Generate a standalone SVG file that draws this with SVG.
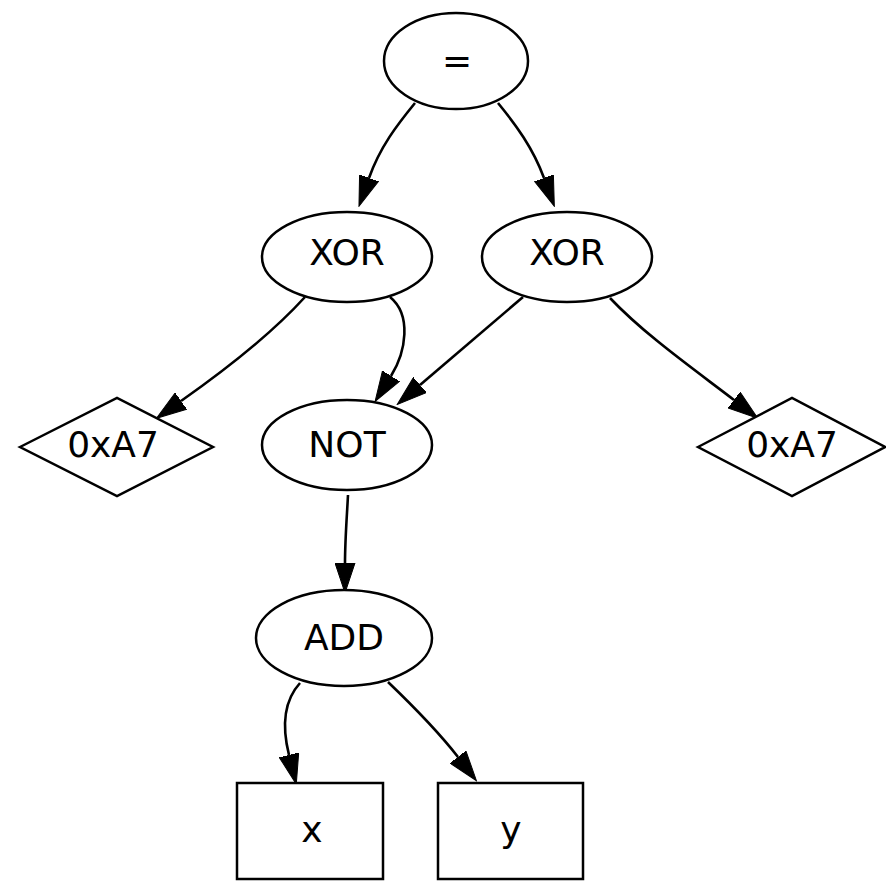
<svg xmlns="http://www.w3.org/2000/svg" width="886" height="887" viewBox="0 0 886 887">
  <style>
    .shape { fill: #ffffff; stroke: #000000; stroke-width: 2.5; }
    .edge { fill: none; stroke: #000000; stroke-width: 2.6; }
    .label { font-family: "DejaVu Sans", sans-serif; font-size: 36px; fill: #000000; text-anchor: middle; }
  </style>
  <defs>
    <marker id="arrow" markerUnits="userSpaceOnUse" markerWidth="31" markerHeight="21" viewBox="0 0 31 21" refX="0" refY="10.5" orient="auto">
      <path d="M0,0.5 L30,10.5 L0,20.5 Z" fill="#000000" stroke="#000000" stroke-width="1"/>
    </marker>
  </defs>
  <rect width="886" height="887" fill="#ffffff"/>

  <g id="edges">
    <path class="edge" marker-end="url(#arrow)" d="M415,103 C397,125 380,147 369,178"/>
    <path class="edge" marker-end="url(#arrow)" d="M498,103 C516,125 533,148 544,178"/>
    <path class="edge" marker-end="url(#arrow)" d="M305,297 C275,330 228,368 181,401"/>
    <path class="edge" marker-end="url(#arrow)" d="M390,297 C412,315 406,352 391,376"/>
    <path class="edge" marker-end="url(#arrow)" d="M523,297 C490,325 455,355 420,385"/>
    <path class="edge" marker-end="url(#arrow)" d="M610,298 C645,335 695,370 734,400"/>
    <path class="edge" marker-end="url(#arrow)" d="M348,495 C347,515 345,540 345,563"/>
    <path class="edge" marker-end="url(#arrow)" d="M300,683 C280,705 284,735 289,755"/>
    <path class="edge" marker-end="url(#arrow)" d="M388,682 C412,705 437,730 458,757"/>
  </g>

  <g id="eq">
    <ellipse class="shape" cx="456" cy="61" rx="72" ry="48"/>
    <text class="label" x="457" y="73">=</text>
  </g>
  <g id="xor_left">
    <ellipse class="shape" cx="347" cy="257" rx="85" ry="45"/>
    <text class="label" x="347" y="265">XOR</text>
  </g>
  <g id="xor_right">
    <ellipse class="shape" cx="567" cy="257" rx="85" ry="45"/>
    <text class="label" x="567" y="265">XOR</text>
  </g>
  <g id="const_left">
    <polygon class="shape" points="20,447 117,398 213,447 117,496"/>
    <text class="label" x="113" y="457">0xA7</text>
  </g>
  <g id="not">
    <ellipse class="shape" cx="347" cy="445" rx="85" ry="45"/>
    <text class="label" x="347" y="457">NOT</text>
  </g>
  <g id="const_right">
    <polygon class="shape" points="698,447 792,398 885,447 792,496"/>
    <text class="label" x="792" y="457">0xA7</text>
  </g>
  <g id="add">
    <ellipse class="shape" cx="344" cy="638" rx="88" ry="48"/>
    <text class="label" x="344" y="650">ADD</text>
  </g>
  <g id="var_x">
    <rect class="shape" x="237" y="783" width="146" height="96"/>
    <text class="label" x="312" y="842">x</text>
  </g>
  <g id="var_y">
    <rect class="shape" x="438" y="783" width="145" height="96"/>
    <text class="label" x="511" y="842">y</text>
  </g>
</svg>
